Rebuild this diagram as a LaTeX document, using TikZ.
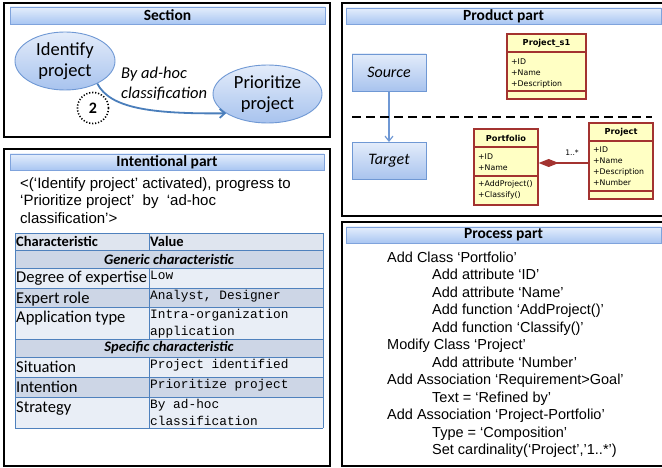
\documentclass[tikz,border=0pt]{standalone}
\usepackage{fontspec}
\setmainfont{Carlito}
\newfontfamily\arialfont{Liberation Sans}
\newfontfamily\courfont{Liberation Mono}
\newfontfamily\umlfont{DejaVu Sans}
\usepackage{tikz}
\usetikzlibrary{shapes,arrows.meta}
\usetikzlibrary{positioning}

\definecolor{bartop}{HTML}{E4EEFC}
\definecolor{barbot}{HTML}{A9C6F2}
\definecolor{barline}{HTML}{7FA3DC}
\definecolor{goaltop}{HTML}{E3ECFA}
\definecolor{goalbot}{HTML}{A8C3EE}
\definecolor{goalline}{HTML}{6F98D4}
\definecolor{flowblue}{HTML}{4A7EBB}
\definecolor{umlfill}{HTML}{FFFFC4}
\definecolor{umlline}{HTML}{A33330}
\definecolor{gridblue}{HTML}{4F81BD}
\definecolor{tabhead}{HTML}{DFE5EF}
\definecolor{tabdark}{HTML}{CDD6E6}
\definecolor{tablite}{HTML}{E9EEF6}

\begin{document}
\begin{tikzpicture}[x=1pt,y=-1pt,
  panel/.style={draw=black,line width=2.4pt},
  titlebar/.style={draw=barline,line width=0.8pt,top color=bartop,bottom color=barbot,
    inner sep=0pt,font=\bfseries\fontsize{15.5}{17}\selectfont},
  goal/.style={ellipse,draw=goalline,line width=0.9pt,top color=goaltop,bottom color=goalbot,
    inner sep=0pt,align=center,font=\fontsize{18.5}{21}\selectfont},
  partbox/.style={rectangle,draw=goalline,line width=0.9pt,top color=goaltop,bottom color=goalbot,
    minimum width=74,minimum height=37,inner sep=0pt,font=\itshape\fontsize{16}{18}\selectfont},
  flow/.style={draw=flowblue,line width=1.8pt,-{Straight Barb[length=5pt,width=9pt]}},
  link/.style={draw=goalline,line width=1.2pt,-{Straight Barb[length=5pt,width=8pt]}},
  cut/.style={draw=black,line width=2pt,dash pattern=on 9pt off 5pt},
  numcircle/.style={circle,draw=black,line width=1.6pt,dash pattern=on 1.2pt off 1.8pt,
    minimum size=31,inner sep=0pt,font=\bfseries\fontsize{16}{18}\selectfont},
  umlbox/.style={draw=umlline,line width=1.3pt,fill=umlfill,inner sep=0pt},
  umlsep/.style={draw=umlline,line width=1.3pt},
  umlname/.style={inner sep=0pt,font=\umlfont\bfseries\fontsize{8.2}{10}\selectfont},
  umlattr/.style={inner sep=0pt,anchor=base west,align=left,font=\umlfont\fontsize{7.8}{10.8}\selectfont},
  compose/.style={draw=umlline,line width=1.2pt,-{Diamond[length=20pt,width=8pt,fill=umlline]}},
  umlcard/.style={inner sep=0pt,font=\umlfont\fontsize{7.6}{9}\selectfont},
  intro/.style={inner sep=0pt,anchor=base west,align=left,font=\arialfont\fontsize{15}{17.5}\selectfont},
  grid/.style={draw=gridblue,line width=0.9pt},
  headtext/.style={inner sep=0pt,anchor=base west,font=\bfseries\fontsize{14.5}{17}\selectfont},
  grouptext/.style={inner sep=0pt,font=\bfseries\itshape\fontsize{14.5}{17}\selectfont},
  keytext/.style={inner sep=0pt,anchor=base west,font=\fontsize{16.5}{19}\selectfont},
  valtext/.style={inner sep=0pt,anchor=base west,align=left,font=\courfont\fontsize{12.8}{16.5}\selectfont},
  steptext/.style={inner sep=0pt,anchor=base west,font=\arialfont\fontsize{14.5}{17}\selectfont}]

\useasboundingbox[fill=white] (0,0) rectangle (662,468);

% panels
\draw[panel] (4,3) rectangle (330,137);
\draw[panel] (4,149) rectangle (330,466);
\draw[panel] (342,3) rectangle (668,216);
\draw[panel] (342,222) rectangle (668,466);

\node[titlebar,minimum width=315,minimum height=17] (sect) at (167.5,15.5) {Section};
\node[titlebar,minimum width=314,minimum height=16] (intt) at (167,162) {Intentional part};
\node[titlebar,minimum width=315,minimum height=16] (prodt) at (503.5,16) {Product part};
\node[titlebar,minimum width=315,minimum height=16] (proct) at (503.5,235) {Process part};

% section
\node[goal,minimum width=100,minimum height=58] (idp) at (65,61) {Identify\\project};
\node[goal,minimum width=109,minimum height=58] (prp) at (267.5,94) {Prioritize\\project};
\node[anchor=west,inner sep=0pt,align=left,font=\itshape\fontsize{16.5}{20}\selectfont] (strat) at (121,84) {By ad-hoc\\classification};
\draw[flow] (idp.-35) .. controls (110,108) and (150,114) .. (prp.205);
\node[numcircle] (num) at (93,108) {2};

% product part
\node[partbox] (src) at (389,72.5) {Source};
\node[partbox] (tgt) at (389,161) {Target};
\draw[link] (src) -- (tgt);
\draw[cut] (352,117) -- (652,117);

\node[umlbox,minimum width=79,minimum height=65] (ps1) at (546.5,66.5) {};
\draw[umlsep] (507,52) -- (586,52) (507,91) -- (586,91);
\node[umlname] (ps1n) at (546.5,43) {Project\_s1};
\node[umlattr] (ps1a) at (511,86.6) {+ID\\+Name\\+Description};

\node[umlbox,minimum width=64,minimum height=76] (pf) at (506,167) {};
\draw[umlsep] (474,147) -- (538,147) (474,176) -- (538,176);
\node[umlname] (pfn) at (506,138) {Portfolio};
\node[umlattr] (pfa) at (478,170.8) {+ID\\+Name};
\node[umlattr] (pff) at (478,197.8) {+AddProject()\\+Classify()};

\node[umlbox,minimum width=64,minimum height=76] (prj) at (621,161) {};
\draw[umlsep] (589,141) -- (653,141) (589,191) -- (653,191);
\node[umlname] (prjn) at (621,132) {Project};
\node[umlattr] (prja) at (593,185.4) {+ID\\+Name\\+Description\\+Number};

\coordinate (cmp) at (0,163);
\draw[compose] (prj.west |- cmp) -- (pf.east |- cmp);
\node[umlcard] (card) at (572,153) {1..*};

% intentional part
\node[intro] (intro) at (20,223) {<(‘Identify project’ activated), progress to\\‘Prioritize project’~~by~~‘ad-hoc\\classification’>};

\foreach \rtop/\rbot/\rfill in {233/250/tabhead,250/268/tabdark,268/288/tablite,288/307/tabdark,
  307/339/tablite,339/357/tabdark,357/377/tablite,377/397/tabdark,397/428/tablite}
  \fill[\rfill] (15,\rtop) rectangle (323,\rbot);
\foreach \ry in {233,250,268,288,307,339,357,377,397,428}
  \draw[grid] (15,\ry) -- (323,\ry);
\draw[grid] (15,233) -- (15,428) (323,233) -- (323,428);
\draw[grid] (149,233) -- (149,250) (149,268) -- (149,339) (149,357) -- (149,428);

\node[headtext] (chh) at (16,247) {Characteristic};
\node[headtext] (valh) at (150,247) {Value};
\node[grouptext] (gen) at (169,259) {Generic characteristic};
\node[grouptext] (spec) at (169,348) {Specific characteristic};

\foreach \ry/\txt in {268/Degree of expertise,288/Expert role,307/Application type,
  357/Situation,377/Intention,397/Strategy}
  \node[keytext] (key\ry) at (16,\ry+15) {\txt};

\node[valtext] (val268) at (150,279.5) {Low};
\node[valtext] (val288) at (150,299.5) {Analyst, Designer};
\node[valtext] (val307) at (150,335) {Intra-organization\\application};
\node[valtext] (val357) at (150,368.5) {Project identified};
\node[valtext] (val377) at (150,388.5) {Prioritize project};
\node[valtext] (val397) at (150,425) {By ad-hoc\\classification};

% process part
\foreach \i/\ind/\txt in {0/0/{Add Class ‘Portfolio’},1/1/{Add attribute ‘ID’},
  2/1/{Add attribute ‘Name’},3/1/{Add function ‘AddProject()’},4/1/{Add function ‘Classify()’},
  5/0/{Modify Class ‘Project’},6/1/{Add attribute ‘Number’},
  7/0/{Add Association ‘Requirement>Goal’},8/1/{Text = ‘Refined by’},
  9/0/{Add Association ‘Project-Portfolio’},10/1/{Type = ‘Composition’},
  11/1/{Set cardinality(‘Project’,’1..*’)}}
  \node[steptext] (proc\i) at (387+45*\ind,262+17.5*\i) {\txt};
\end{tikzpicture}
\end{document}
